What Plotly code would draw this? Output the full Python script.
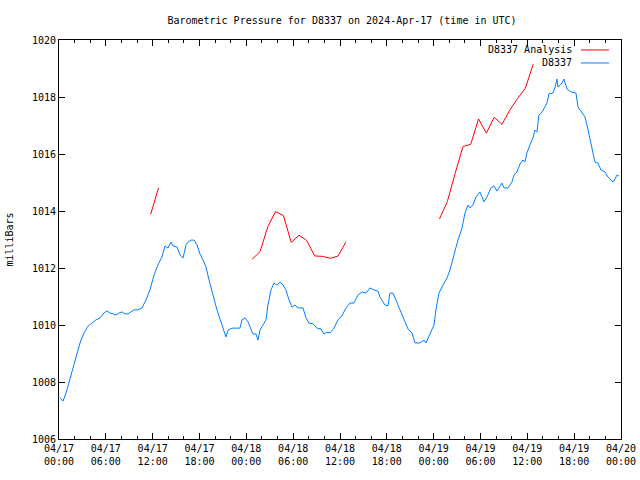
import pandas as pd
import plotly.graph_objects as go

START = pd.Timestamp("2024-04-17 00:00")

# Station observations: hours after 2024-04-17 00:00 UTC, pressure in mbar
obs_hours = [0.13, 0.51, 0.90, 1.41, 2.05, 2.69, 3.20, 3.72, 4.23, 4.74, 5.25, 5.76, 6.15, 6.53, 6.92,
             7.30, 7.69, 8.07, 8.46, 8.84, 9.22, 9.61, 10.12, 10.63, 11.15, 11.66, 12.17, 12.68, 13.19,
             13.58, 13.96, 14.35, 14.60, 15.12, 15.50, 15.89, 16.27, 16.53, 16.91, 17.29, 17.68, 18.06,
             18.45, 18.83, 19.22, 19.73, 20.24, 20.75, 21.14, 21.39, 21.65, 22.16, 22.67, 23.19, 23.44,
             23.83, 24.21, 24.60, 24.85, 25.24, 25.49, 25.75, 26.13, 26.52, 26.77, 27.16, 27.54, 27.93,
             28.31, 28.70, 29.08, 29.47, 29.85, 30.23, 30.62, 31.26, 31.64, 32.03, 32.54, 33.05, 33.56,
             33.95, 34.33, 34.72, 35.23, 35.74, 36.25, 36.77, 37.28, 37.79, 38.30, 38.82, 39.33, 39.84,
             40.35, 40.87, 41.12, 41.76, 42.15, 42.40, 42.79, 43.17, 43.68, 44.20, 44.71, 45.22, 45.61,
             46.25, 46.76, 47.01, 47.40, 47.78, 48.04, 48.29, 48.68, 49.19, 49.71, 50.09, 50.60, 51.11,
             51.63, 52.01, 52.40, 52.65, 53.04, 53.42, 53.93, 54.45, 54.83, 55.34, 55.73, 56.11, 56.75,
             57.01, 57.52, 58.03, 58.29, 58.67, 59.06, 59.44, 59.70, 59.95, 60.34, 60.72, 60.98, 61.23,
             61.49, 61.87, 62.26, 62.52, 62.77, 63.28, 63.54, 63.80, 63.92, 64.44, 64.69, 65.08, 65.59,
             66.23, 66.49, 67.00, 67.38, 67.64, 68.02, 68.41, 68.66, 69.05, 69.43, 69.95, 70.33, 70.97,
             71.10, 71.48, 71.74]
obs_mbar = [1007.44, 1007.33, 1007.61, 1008.14, 1008.77, 1009.37, 1009.72, 1009.96, 1010.07, 1010.18,
            1010.25, 1010.42, 1010.49, 1010.42, 1010.39, 1010.35, 1010.42, 1010.46, 1010.39, 1010.39,
            1010.46, 1010.53, 1010.53, 1010.60, 1010.88, 1011.23, 1011.75, 1012.11, 1012.39, 1012.77,
            1012.70, 1012.91, 1012.77, 1012.74, 1012.46, 1012.35, 1012.81, 1012.91, 1012.98, 1012.98,
            1012.81, 1012.49, 1012.28, 1012.04, 1011.58, 1011.05, 1010.53, 1010.11, 1009.75, 1009.58,
            1009.82, 1009.89, 1009.89, 1009.89, 1010.18, 1010.25, 1010.11, 1009.82, 1009.68, 1009.68,
            1009.47, 1009.82, 1010.00, 1010.18, 1010.70, 1011.23, 1011.47, 1011.40, 1011.51, 1011.40,
            1011.23, 1010.88, 1010.63, 1010.70, 1010.60, 1010.60, 1010.25, 1010.07, 1010.04, 1009.89,
            1009.86, 1009.68, 1009.75, 1009.72, 1009.89, 1010.18, 1010.32, 1010.60, 1010.77, 1010.77,
            1011.05, 1011.16, 1011.12, 1011.30, 1011.23, 1011.19, 1010.98, 1010.70, 1010.67, 1011.12,
            1011.12, 1010.88, 1010.53, 1010.18, 1009.86, 1009.72, 1009.37, 1009.37, 1009.47, 1009.37,
            1009.61, 1009.82, 1010.00, 1010.53, 1011.12, 1011.40, 1011.65, 1011.93, 1012.46, 1012.98,
            1013.40, 1013.93, 1014.21, 1014.11, 1014.21, 1014.49, 1014.67, 1014.32, 1014.49, 1014.81,
            1014.88, 1014.70, 1014.98, 1014.81, 1014.81, 1015.02, 1015.26, 1015.37, 1015.65, 1015.79,
            1015.72, 1016.04, 1016.32, 1016.56, 1016.84, 1016.77, 1017.37, 1017.47, 1017.65, 1017.79,
            1018.11, 1018.14, 1018.32, 1018.63, 1018.35, 1018.49, 1018.63, 1018.28, 1018.18, 1018.14,
            1017.65, 1017.44, 1017.30, 1017.02, 1016.56, 1016.07, 1015.72, 1015.68, 1015.44, 1015.37,
            1015.19, 1015.02, 1015.05, 1015.26, 1015.23]

# Analysis values (three separate runs; None breaks the line)
ana_hours = [11.75, 12.75, None,
             24.75, 25.75, 26.75, 27.75, 28.75, 29.75, 30.75, 31.75, 32.75, 33.75, 34.75, 35.75, 36.75, None,
             48.75, 49.75, 50.75, 51.75, 52.75, 53.75, 54.75, 55.75, 56.75, 57.75, 58.75, 59.75, 60.75]
ana_mbar = [1013.89, 1014.81, None,
            1012.31, 1012.57, 1013.45, 1013.98, 1013.84, 1012.90, 1013.15, 1012.96, 1012.42, 1012.41,
            1012.34, 1012.42, 1012.91, None,
            1013.72, 1014.33, 1015.32, 1016.26, 1016.34, 1017.23, 1016.73, 1017.29, 1017.04, 1017.54,
            1017.95, 1018.31, 1019.15]

tick_hours = list(range(0, 73, 6))
tick_labels = ["04/17<br>00:00", "04/17<br>06:00", "04/17<br>12:00", "04/17<br>18:00",
               "04/18<br>00:00", "04/18<br>06:00", "04/18<br>12:00", "04/18<br>18:00",
               "04/19<br>00:00", "04/19<br>06:00", "04/19<br>12:00", "04/19<br>18:00",
               "04/20<br>00:00"]
y_ticks = [1006, 1008, 1010, 1012, 1014, 1016, 1018, 1020]

RED = "#ff0000"
BLUE = "#0080ff"


def to_time(hs):
    return [None if h is None else START + pd.Timedelta(hours=h) for h in hs]


fig = go.Figure()
fig.add_trace(go.Scatter(x=to_time(ana_hours), y=ana_mbar, mode="lines", name="D8337 Analysis",
                         line=dict(color=RED, width=1), connectgaps=False, showlegend=False))
fig.add_trace(go.Scatter(x=to_time(obs_hours), y=obs_mbar, mode="lines", name="D8337",
                         line=dict(color=BLUE, width=1), showlegend=False))

font = dict(family="DejaVu Sans Mono", size=10, color="black")

fig.update_layout(
    width=640, height=480,
    margin=dict(l=59, r=19, t=40, b=41, autoexpand=False),
    paper_bgcolor="white", plot_bgcolor="white",
    font=font,
    title=dict(text="Barometric Pressure for D8337 on 2024-Apr-17 (time in UTC)",
               x=342 / 640, xanchor="center", y=1 - 20 / 480, yanchor="middle",
               font=font),
    xaxis=dict(
        type="date", automargin=False,
        range=[START, START + pd.Timedelta(hours=72)],
        tickvals=to_time(tick_hours), ticktext=tick_labels,
        ticks="inside", ticklen=6, tickcolor="black",
        showline=True, linecolor="black", linewidth=1, mirror="ticks",
        showgrid=False, zeroline=False,
        minor=dict(dtick=2 * 3600 * 1000, tick0=START, ticks="inside", ticklen=3,
                   tickcolor="black", showgrid=False),
        tickfont=font,
    ),
    yaxis=dict(
        automargin=False,
        range=[1006, 1020], tickvals=y_ticks, ticktext=[str(v) for v in y_ticks],
        ticks="inside", ticklen=6, tickcolor="black",
        showline=True, linecolor="black", linewidth=1, mirror="ticks",
        showgrid=False, zeroline=False,
        title=dict(text="milliBars", font=font, standoff=16),
        tickfont=font,
    ),
)

# Gnuplot-style legend: right-aligned text with line sample to its right
legend_items = [("D8337 Analysis", RED, 0.975), ("D8337", BLUE, 0.9424)]
for label, color, ypos in legend_items:
    fig.add_annotation(x=0.9164, y=ypos, xref="paper", yref="paper", text=label,
                       showarrow=False, xanchor="right", yanchor="middle", font=font)
    fig.add_shape(type="line", xref="paper", yref="paper", x0=0.9288, x1=0.9786,
                  y0=ypos, y1=ypos, line=dict(color=color, width=1))

fig.write_html("out.html")
